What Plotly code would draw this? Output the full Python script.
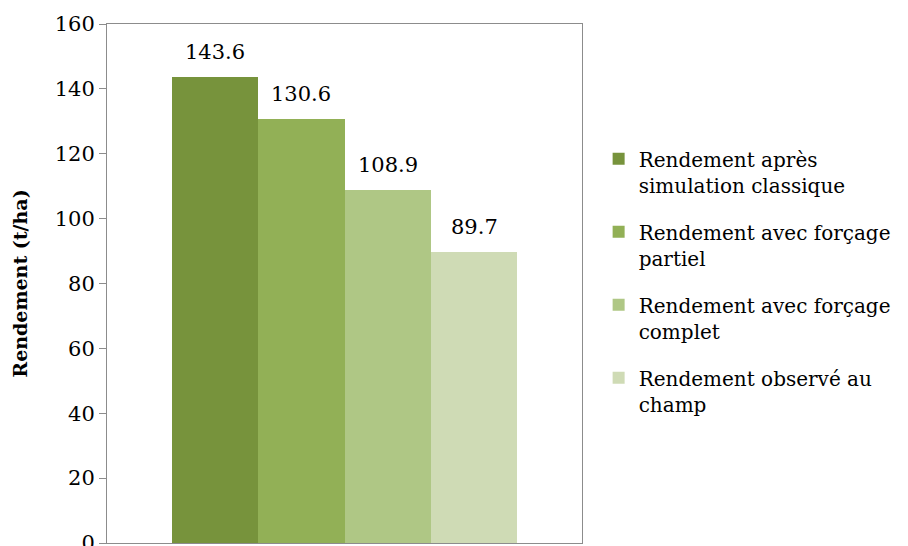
import plotly.graph_objects as go

# Rendement par type de simulation (t/ha)
series_names = [
    "Rendement après<br>simulation classique",
    "Rendement avec forçage<br>partiel",
    "Rendement avec forçage<br>complet",
    "Rendement observé au<br>champ",
]
series_keys = ["classique", "partiel", "complet", "observe"]
values = [143.6, 130.6, 108.9, 89.7]
colors = ["#77933C", "#92B056", "#AFC785", "#CFDBB5"]

y_ticks = [0, 20, 40, 60, 80, 100, 120, 140, 160]

FONT = "DejaVu Serif"

fig = go.Figure()
for name, key, v, c in zip(series_names, series_keys, values, colors):
    fig.add_trace(go.Bar(
        x=[key], y=[v], name=name, marker=dict(color=c, line=dict(width=0)),
        legendgroup=key, hoverinfo="y",
    ))
    fig.add_annotation(
        x=key, y=v, text=f"{v:.1f}", showarrow=False, yanchor="bottom",
        yshift=11, font=dict(family=FONT, size=21, color="#000000"),
    )

fig.update_layout(
    width=908, height=546,
    margin=dict(l=107, r=326, t=24, b=3),
    paper_bgcolor="#FFFFFF", plot_bgcolor="#FFFFFF",
    bargap=0,
    showlegend=True,
    legend=dict(
        x=1.035, y=0.778, xanchor="left", yanchor="top",
        font=dict(family=FONT, size=20, color="#000000"),
        valign="top", tracegroupgap=18, itemwidth=30, borderwidth=0,
        bgcolor="rgba(0,0,0,0)",
    ),
    font=dict(family=FONT, color="#000000"),
)

fig.update_xaxes(
    type="category", range=[-1.25, 4.25], showticklabels=False,
    showline=True, linecolor="#8C8C8C", linewidth=1, mirror=True,
    showgrid=False, ticks="", zeroline=False,
)
fig.update_yaxes(
    range=[0, 160], tickvals=y_ticks, ticktext=[str(t) for t in y_ticks],
    showline=True, linecolor="#8C8C8C", linewidth=1, mirror=True,
    ticks="outside", ticklen=7, tickcolor="#8C8C8C", tickwidth=1,
    showgrid=False, zeroline=False, ticklabeloverflow="allow", automargin=False,
    tickfont=dict(family=FONT, size=21, color="#000000"),
    title=dict(text="<b>Rendement (t/ha)</b>", standoff=22,
               font=dict(family=FONT, size=19, color="#000000")),
)

fig.write_html("out.html")
